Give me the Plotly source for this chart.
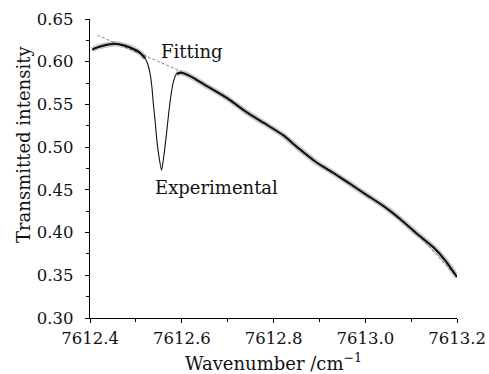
import plotly.graph_objects as go

# Experimental transmitted intensity
wavenumber = [7612.405, 7612.412, 7612.43, 7612.454, 7612.475, 7612.498, 7612.510,
              7612.520, 7612.526, 7612.531, 7612.535, 7612.538, 7612.542, 7612.545,
              7612.550, 7612.556, 7612.561, 7612.566, 7612.570, 7612.574, 7612.578,
              7612.582, 7612.589, 7612.600, 7612.615, 7612.629, 7612.650, 7612.669,
              7612.700, 7612.741, 7612.780, 7612.821, 7612.854, 7612.894, 7612.930,
              7612.967, 7613.000, 7613.040, 7613.076, 7613.112, 7613.148, 7613.175,
              7613.200]
intensity = [0.614, 0.616, 0.619, 0.621, 0.619, 0.614, 0.610,
             0.604, 0.597, 0.586, 0.570, 0.551, 0.530, 0.512,
             0.490, 0.473, 0.490, 0.512, 0.532, 0.551, 0.566,
             0.577, 0.586, 0.587, 0.584, 0.580, 0.573, 0.567,
             0.557, 0.541, 0.528, 0.514, 0.499, 0.482, 0.470,
             0.457, 0.445, 0.431, 0.416, 0.399, 0.383, 0.367,
             0.348]

# Fitted baseline
fit_wavenumber = [7612.416, 7612.45, 7612.50, 7612.55, 7612.589, 7612.629, 7612.669,
                  7612.741, 7612.821, 7612.894, 7612.967, 7613.040, 7613.112, 7613.200]
fit_intensity = [0.631, 0.623, 0.612, 0.600, 0.591, 0.580, 0.567,
                 0.541, 0.514, 0.482, 0.457, 0.431, 0.399, 0.348]

x_ticks = [7612.4, 7612.6, 7612.8, 7613.0, 7613.2]
x_tick_labels = ["7612.4", "7612.6", "7612.8", "7613.0", "7613.2"]
y_ticks = [0.30, 0.35, 0.40, 0.45, 0.50, 0.55, 0.60, 0.65]
y_tick_labels = ["0.30", "0.35", "0.40", "0.45", "0.50", "0.55", "0.60", "0.65"]

# noise band is drawn only outside the narrow absorption dip (style)
dip_lo, dip_hi = 7612.524, 7612.585
band_y = [None if dip_lo < x < dip_hi else y for x, y in zip(wavenumber, intensity)]

FONT = "DejaVu Serif"

fig = go.Figure()
fig.add_trace(go.Scatter(x=fit_wavenumber, y=fit_intensity, mode="lines",
                         line=dict(color="#666666", width=0.8, dash="3px,2px"),
                         name="Fitting", showlegend=False))
fig.add_trace(go.Scatter(x=wavenumber, y=band_y, mode="lines",
                         line=dict(color="rgba(0,0,0,0.22)", width=5.5,
                                   shape="spline", smoothing=0.6),
                         connectgaps=False, showlegend=False, hoverinfo="skip"))
fig.add_trace(go.Scatter(x=wavenumber, y=band_y, mode="lines",
                         line=dict(color="#111111", width=2.0,
                                   shape="spline", smoothing=0.6),
                         connectgaps=False, showlegend=False, hoverinfo="skip"))
fig.add_trace(go.Scatter(x=wavenumber, y=intensity, mode="lines",
                         line=dict(color="#111111", width=1.1,
                                   shape="spline", smoothing=0.6),
                         name="Experimental", showlegend=False))

fig.add_annotation(x=7612.622, y=0.6124, text="Fitting", showarrow=False,
                   font=dict(family=FONT, size=18, color="#111"),
                   xanchor="center", yanchor="middle")
fig.add_annotation(x=7612.675, y=0.4528, text="Experimental", showarrow=False,
                   font=dict(family=FONT, size=18, color="#111"),
                   xanchor="center", yanchor="middle")
fig.add_annotation(xref="paper", yref="paper", x=-0.1798, y=0.5786,
                   text="Transmitted intensity", textangle=-90, showarrow=False,
                   font=dict(family=FONT, size=18, color="#111"),
                   xanchor="center", yanchor="middle")
fig.add_annotation(xref="paper", yref="paper", x=0.5, y=-0.147,
                   text="Wavenumber /cm<sup>−1</sup>", showarrow=False,
                   font=dict(family=FONT, size=18, color="#111"),
                   xanchor="center", yanchor="middle")

axis_common = dict(showline=True, linecolor="black", linewidth=1.2, mirror=False,
                   ticks="outside", ticklen=4, tickwidth=1, tickcolor="black",
                   showgrid=False, zeroline=False, automargin=False,
                   tickfont=dict(family=FONT, size=16.5, color="#111"))

fig.update_xaxes(range=[7612.4, 7613.2], tickvals=x_ticks, ticktext=x_tick_labels,
                 minor=dict(ticks="outside", ticklen=2.5, dtick=0.1, tick0=7612.4,
                            tickcolor="black", showgrid=False),
                 ticklabelstandoff=1,
                 **axis_common)
fig.update_yaxes(range=[0.30, 0.65], tickvals=y_ticks, ticktext=y_tick_labels,
                 minor=dict(ticks="outside", ticklen=2.5, dtick=0.025, tick0=0.30,
                            tickcolor="black", showgrid=False),
                 ticklabelstandoff=8,
                 **axis_common)

fig.update_layout(width=489, height=374, paper_bgcolor="white", plot_bgcolor="white",
                  margin=dict(l=90, r=32, t=19, b=56), showlegend=False)

fig.write_html("out.html")
